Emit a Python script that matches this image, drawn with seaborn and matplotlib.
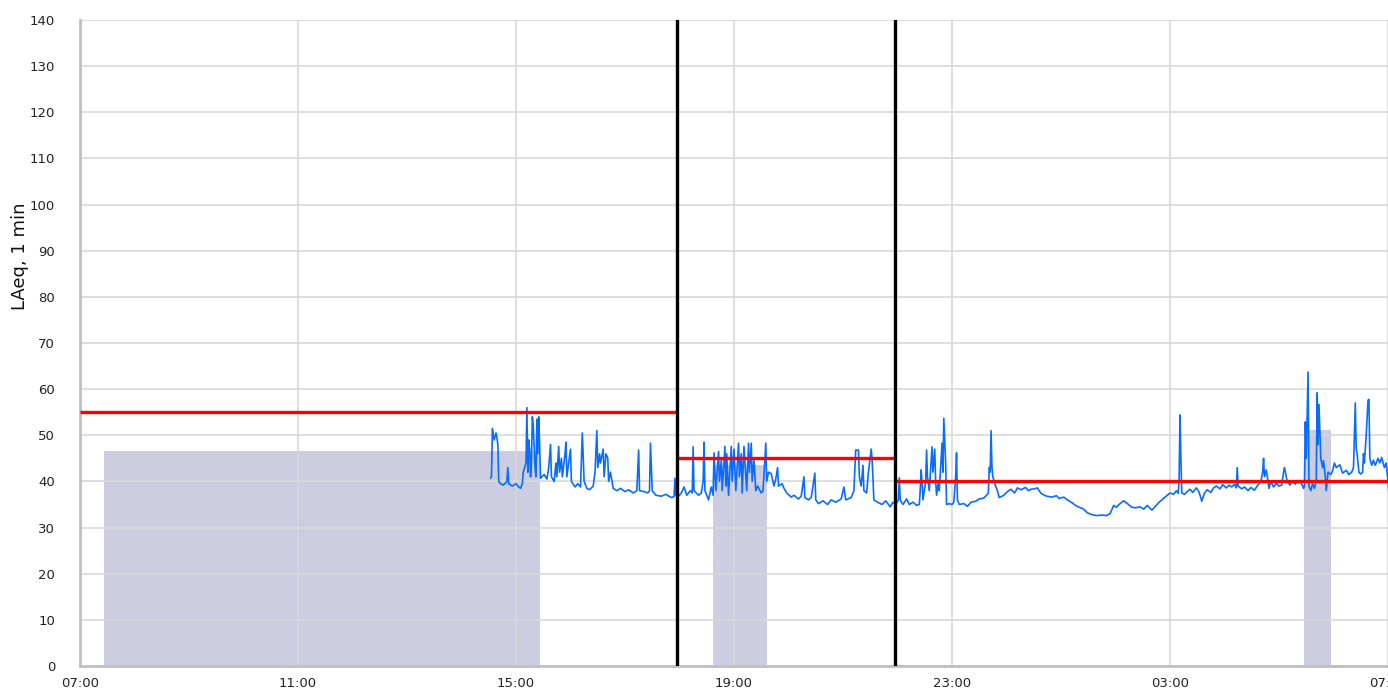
import matplotlib
matplotlib.use('Agg')
import matplotlib.pyplot as plt
import seaborn as sns
import pandas as pd

# ── Data ──────────────────────────────────────────────────────────────────────
# time axis = minutes since 07:00 (24 h window)
x_ticks = [0, 240, 480, 720, 960, 1200, 1440]
x_tick_labels = ["07:00", "11:00", "15:00", "19:00", "23:00", "03:00", "07:00"]
y_ticks = list(range(0, 141, 10))

# LAeq, 1 min  (minute offset, dB)
laeq_min = [
    452, 453, 454, 456, 458, 459, 460, 461, 463, 466, 470, 471, 472, 476, 480, 483, 485, 487,
    488, 491, 492, 493, 494, 495, 496, 497, 498, 499, 501, 502, 503, 504, 505, 506, 507, 511,
    514, 516, 518, 519, 522, 524, 525, 527, 528, 530, 531, 534, 535, 536, 538, 540, 541, 545,
    548, 551, 553, 555, 558, 561, 565, 567, 569, 570, 572, 573, 576, 577, 579, 581, 582, 584,
    587, 591, 595, 600, 604, 609, 613, 615, 616, 621, 625, 627, 628, 630, 634, 640, 645, 651,
    654, 655, 656, 658,
    662, 665, 668, 672, 674, 675, 676, 681, 684, 686, 687, 688, 692, 695, 697, 698, 700, 703,
    704, 706, 707, 710, 711, 712, 714, 717, 718, 720, 722, 725, 726, 728, 729, 731, 734, 736,
    737, 739, 740, 742, 744, 746, 750, 752, 755, 756, 758, 761, 764, 766, 768, 769, 773, 775,
    778, 783, 786, 791, 794, 797, 798, 802, 805, 809, 810, 813, 818, 823, 827, 832, 838, 841,
    843, 849, 852, 854, 857, 858, 860, 862, 863, 866, 868, 871, 872, 874, 878, 883, 887, 892,
    895, 898,
    901, 902, 903, 906, 910, 913, 917, 921, 924, 925, 926, 927, 928, 931, 932, 933, 935, 938,
    939, 941, 942, 943, 945, 946, 948, 949, 950, 951, 953, 954, 957, 960, 962, 964, 965, 966,
    968, 973, 977, 981, 986, 990, 995, 998, 1000, 1001, 1002, 1003, 1004, 1005, 1008, 1010,
    1012, 1017, 1021, 1025, 1029, 1032, 1036, 1041, 1044, 1047, 1051, 1054, 1058, 1064, 1070,
    1075, 1078, 1083, 1087, 1092, 1096, 1100, 1105, 1109, 1114, 1119, 1125, 1130, 1134, 1138,
    1141, 1145, 1149, 1153, 1158, 1162, 1167,
    1171, 1175, 1180, 1184, 1188, 1191, 1197, 1200, 1204, 1207, 1209, 1210, 1211, 1212, 1213,
    1216, 1219, 1222, 1225, 1229, 1232, 1235, 1238, 1241, 1245, 1248, 1251, 1255, 1258, 1262,
    1265, 1268, 1271, 1273, 1274, 1275, 1279, 1282, 1286, 1289, 1293, 1296, 1300, 1302, 1303,
    1304, 1306, 1309, 1311, 1314, 1317, 1320, 1323, 1325, 1326, 1329, 1332, 1335, 1338, 1341,
    1345, 1347, 1348, 1349, 1350, 1352, 1353, 1355, 1357, 1359, 1361, 1362, 1363, 1364, 1366,
    1368, 1369, 1371, 1372, 1374, 1377, 1379, 1381, 1383, 1387, 1390, 1394, 1397, 1400, 1402,
    1404, 1405, 1406, 1408, 1410, 1412, 1413, 1414, 1416, 1418, 1419, 1420, 1422, 1424, 1426,
    1429, 1431, 1433, 1436, 1438, 1440, 1441,
]
laeq_val = [
    40.7, 41, 51.5, 49, 50.5, 49.5, 48, 40, 39.5, 39.2, 40, 43, 39.5, 39, 39.5, 38.8, 38.5, 39.5,
    42, 44, 56, 42, 49, 47, 41, 44, 54, 52, 43, 41, 53.5, 46, 54, 48, 40.7, 41.5,
    40.5, 43, 48, 41, 40, 44, 41, 47.6, 42, 45, 41, 46, 48.5, 41, 44, 47, 40, 38.8,
    39.5, 38.8, 50.5, 40, 38.5, 38.2, 39, 42, 51, 43, 46, 44, 47, 41, 46, 45, 40, 42,
    38.5, 38, 38.5, 37.8, 38.2, 37.5, 38, 46.8, 38, 37.8, 37.5, 38, 48.3, 38, 37, 36.8, 37.2, 36.5,
    36.7, 40.7, 37, 36.6,
    37.5, 38.8, 37, 38, 37.5, 47.5, 38, 37, 37.5, 40, 48.5, 38, 36, 38.8, 37, 46.2, 38, 46.5,
    40, 44.7, 38, 47.6, 39, 46, 37, 47.6, 40, 47, 38, 48.3, 41, 46, 37.5, 47.6, 38, 48.3,
    42, 48.3, 40, 44.7, 38, 39, 37.5, 38, 48.3, 40, 42, 41.7, 39, 40.5, 43, 39, 39.5, 38.5,
    37.5, 36.6, 37, 36.2, 36.8, 41, 36.5, 36, 36.5, 41.8, 36, 35.2, 35.8, 35, 36, 35.5, 36.2, 38.8,
    36, 36.5, 38, 46.8, 46.8, 41, 39, 43.5, 38, 37.5, 42, 47, 45, 36, 35.5, 35, 35.8, 34.5,
    35.5, 35,
    36, 40.8, 36, 35, 36.2, 35, 35.5, 34.8, 35, 38, 42.5, 40, 36, 40, 46.8, 41, 38, 47.5,
    42, 47, 40, 37, 40, 38, 45, 48.3, 42, 53.7, 44, 35, 35.2, 35, 35.5, 41, 46.2, 36,
    35, 35.2, 34.6, 35.5, 35.7, 36.2, 36.4, 37, 37.5, 43, 42, 51, 43, 41, 39, 38,
    36.5, 37, 37.8, 38.3, 37.5, 38.6, 38.2, 38.7, 38, 38.3, 38.4, 38.6, 37.4, 36.8, 36.6,
    36.9, 36.3, 36.6, 36, 35.4, 34.8, 34.4, 34, 33.2, 32.8, 32.6, 32.7, 32.6, 33, 34.8,
    34.4, 35.2, 35.8, 35.2, 34.4, 34.3, 34.5,
    34, 34.8, 33.8, 34.6, 35.5, 36, 37, 37.5, 37.2, 38, 37.4, 40, 54.4, 45, 37.5,
    37.2, 37.8, 38.3, 37.6, 38.6, 37.7, 35.7, 37.5, 38.2, 37.6, 38.6, 39, 38.4, 39.3, 38.6,
    39.2, 38.8, 39.4, 38.6, 43, 39, 38.4, 38.8, 38, 38.7, 38.1, 39, 40, 42, 45,
    41, 42.5, 38.5, 40, 38.8, 39.6, 39, 39.2, 42, 43, 40, 39.2, 40, 39.4, 40.2,
    39.4, 38.5, 39, 52.9, 45, 63.7, 39, 38, 39.5, 38.5, 40, 59.2, 48, 56.7, 45,
    43, 44.5, 41, 38, 42, 41.5, 42.3, 44, 43, 43.6, 41.8, 42.4, 41.5, 42, 43,
    57, 47, 46, 42, 41.6, 42, 46, 44, 50, 57.6, 57.8, 45, 43.5, 44.6, 43.5,
    45, 44, 45.2, 43, 44, 40, 37.5,
]

# grey period bars (start minute, end minute, level)
bar_start = [26, 697, 1348]
bar_end = [506, 756, 1377]
bar_level = [46.6, 43.6, 51.1]

# period boundaries (day / evening / night) and their limit values
period_marks = [657, 897]
limit_start = [0, 657, 897]
limit_end = [657, 897, 1440]
limit_level = [55, 45, 40]

df = pd.DataFrame({"minute": laeq_min, "laeq": laeq_val})

# ── Plot ──────────────────────────────────────────────────────────────────────
sns.set_style("white")
plt.rcParams['font.family'] = ['DejaVu Sans']

fig = plt.figure(figsize=(13.88, 6.9), dpi=100)
ax = fig.add_axes([80 / 1388, 24 / 690, 1308 / 1388, 646 / 690])

widths = [e - s for s, e in zip(bar_start, bar_end)]
ax.bar(bar_start, bar_level, width=widths, align="edge", color="#cccde0",
       edgecolor="none", zorder=0.2)

sns.lineplot(data=df, x="minute", y="laeq", ax=ax, color="#0a6cff",
             linewidth=1.2, zorder=3)

ax.hlines(limit_level, limit_start, limit_end, colors="#ff0000", linewidth=2.4, zorder=4)
for m in period_marks:
    ax.axvline(m, color="black", linewidth=2.4, zorder=5)

ax.set_xlim(0, 1440)
ax.set_ylim(0, 140)
ax.set_xticks(x_ticks)
ax.set_xticklabels(x_tick_labels)
ax.set_yticks(y_ticks)
ax.grid(True, color="#d9d9d9", linewidth=1.2)
ax.set_axisbelow(True)

ax.set_xlabel("")
ax.set_ylabel("LAeq, 1 min", fontsize=13, color="#111111")
ax.yaxis.set_label_coords(-0.039, 0.635)
ax.tick_params(axis="both", length=0, labelsize=9.5, labelcolor="#222222")
ax.tick_params(axis="y", pad=18)
ax.tick_params(axis="x", pad=8)

for side in ["top", "right"]:
    ax.spines[side].set_visible(False)
for side in ["left", "bottom"]:
    ax.spines[side].set_color("#bfbfbf")
    ax.spines[side].set_linewidth(2)

fig.savefig("out.png", dpi=100, facecolor="white")
